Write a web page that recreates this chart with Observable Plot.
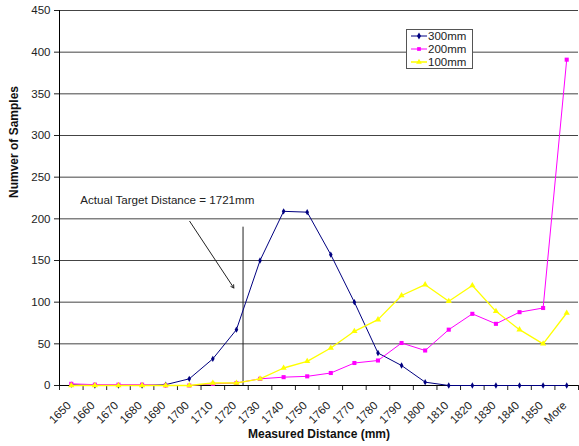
<!DOCTYPE html>
<html><head><meta charset="utf-8">
<script src="https://cdn.jsdelivr.net/npm/d3@7"></script>
<script src="https://cdn.jsdelivr.net/npm/@observablehq/plot@0.6"></script>
<style>
body{margin:0;background:#fff;}
#chart{width:579px;height:446px;}
</style></head><body><div id="chart"></div>
<script>
// ---- data ----
const categories = ["1650","1660","1670","1680","1690","1700","1710","1720","1730","1740","1750","1760","1770","1780","1790","1800","1810","1820","1830","1840","1850","More"];
const s300 = [1,0,0,0,1,8,32,67,150,209,208,157,100,39,24,4,0,0,0,0,0,0];
const s200 = [2,1,1,1,0,0,2,3,8,10,11,15,27,30,51,42,67,86,74,88,93,391];
const s100 = [0,0,0,0,0,0,3,3,8,21,29,45,65,79,108,121,101,120,89,67,50,87];
const seriesNames = ["300mm","200mm","100mm"];
const seriesColors = ["#000080","#FF00FF","#FFFF00"];
const seriesSymbols = ["diamond","square","triangle"];
const yTicks = [0,50,100,150,200,250,300,350,400,450];
const xTitle = "Measured Distance (mm)";
const yTitle = "Numver of Samples";
const targetText = "Actual Target Distance = 1721mm";

// category i sits at 1650 + 10*i on a mm-like axis ("More" at 1860)
const catX = i => 1650 + 10 * i;
const series = [s300, s200, s100].map((vals, k) => vals.map((v, i) => ({series: seriesNames[k], x: catX(i), v})));
const boundaries = d3.range(categories.length + 1).map(i => catX(i) - 5);
const centers = categories.map((c, i) => catX(i));

// annotation placement (drawn shapes in the original)
const annot = {textX: 1653.8, textY: 222, ax1: 1700.2, ay1: 197, ax2: 1718.9, ay2: 117, lineX: 1722.8, lineTop: 190};

const seriesMarks = [];
series.forEach((rows, k) => {
  seriesMarks.push(Plot.line(rows, {x: "x", y: "v", stroke: seriesColors[k], strokeWidth: k === 2 ? 1.3 : 1}));
  seriesMarks.push(Plot.dot(rows, {x: "x", y: "v", fill: seriesColors[k], stroke: "none", symbol: seriesSymbols[k], r: k === 0 ? 1.9 : 2.3}));
});

const plot = Plot.plot({
  width: 579, height: 446,
  marginLeft: 59, marginRight: 1, marginTop: 10, marginBottom: 61,
  style: {fontFamily: "'Liberation Sans', Arial, sans-serif", fontSize: "11.5px", color: "#222", background: "#fff"},
  x: {type: "linear", domain: [1645, 1865], axis: null},
  y: {domain: [0, 450], axis: null},
  marks: [
    Plot.ruleY(yTicks.filter(d => d > 0), {stroke: "#444", strokeWidth: 1}),
    Plot.axisY({ticks: yTicks, tickSize: 5, tickPadding: 4, label: null, fill: "#222"}),
    Plot.axisX({ticks: boundaries, tickSize: 5, tickFormat: () => "", label: null}),
    Plot.axisX({ticks: centers, tickSize: 0, tickPadding: 18, tickRotate: -45, dx: -2, label: null,
      tickFormat: d => categories[Math.round((d - 1650) / 10)], fill: "#222"}),
    Plot.ruleY([0], {stroke: "#000"}),
    Plot.ruleX([1645], {stroke: "#000"}),
    Plot.text([yTitle], {frameAnchor: "left", rotate: -90, dx: -45, fontWeight: "bold", fontSize: 12, fill: "#111"}),
    Plot.text([xTitle], {frameAnchor: "bottom", dy: 52, fontWeight: "bold", fontSize: 12, fill: "#111"}),
    Plot.ruleX([annot], {x: "lineX", y1: 0, y2: "lineTop", stroke: "#222"}),
    Plot.arrow([annot], {x1: "ax1", y1: "ay1", x2: "ax2", y2: "ay2", stroke: "#222", strokeWidth: 1, headLength: 5, bend: 0}),
    Plot.text([targetText], {x: () => annot.textX, y: () => annot.textY, textAnchor: "start", fontSize: 11.6, fill: "#222"}),
    ...seriesMarks
  ]
});

// legend (box drawn over the gridline like the original)
const svg = d3.select(plot);
const lg = svg.append("g").attr("font-family", "'Liberation Sans', Arial, sans-serif").attr("font-size", 11.5).attr("text-anchor", "start");
lg.append("rect").attr("x", 406.5).attr("y", 29.5).attr("width", 66).attr("height", 39).attr("fill", "#fff").attr("stroke", "#555");
seriesNames.forEach((name, k) => {
  const cy = 36 + k * 13;
  lg.append("line").attr("x1", 411).attr("x2", 427).attr("y1", cy).attr("y2", cy).attr("stroke", seriesColors[k]).attr("stroke-width", k === 2 ? 1.5 : 1);
  const sym = {diamond: d3.symbolDiamond, square: d3.symbolSquare, triangle: d3.symbolTriangle}[seriesSymbols[k]];
  lg.append("path").attr("d", d3.symbol(sym, 14)()).attr("transform", `translate(419,${cy})`).attr("fill", seriesColors[k]);
  lg.append("text").attr("x", 428).attr("y", cy).attr("dy", "0.35em").attr("fill", "#222").text(name);
});

document.getElementById("chart").appendChild(plot);
</script>
</body></html>
